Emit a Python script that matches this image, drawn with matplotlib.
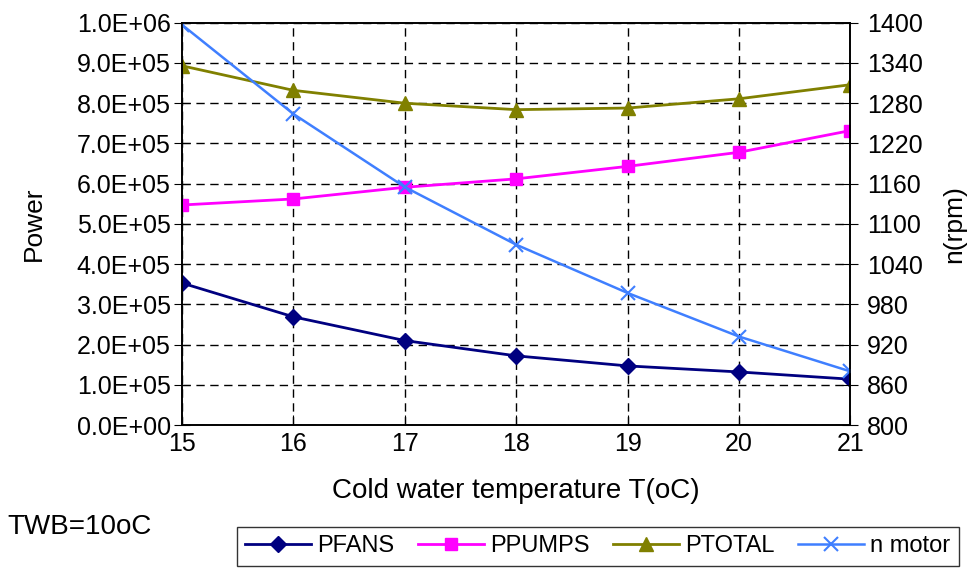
import matplotlib.pyplot as plt

plt.rcParams['font.family'] = ['Liberation Sans', 'DejaVu Sans']

temps = [15, 16, 17, 18, 19, 20, 21]
pfans = [3.53e5, 2.69e5, 2.10e5, 1.72e5, 1.47e5, 1.32e5, 1.14e5]
ppumps = [5.47e5, 5.62e5, 5.91e5, 6.12e5, 6.43e5, 6.78e5, 7.32e5]
ptotal = [8.93e5, 8.32e5, 8.00e5, 7.84e5, 7.88e5, 8.11e5, 8.46e5]
n_motor = [1397, 1264, 1155, 1069, 997, 932, 880]

power_ticks = [i * 1e5 for i in range(11)]
power_labels = ['0.0E+00'] + ['%d.0E+05' % i for i in range(1, 10)] + ['1.0E+06']
rpm_ticks = list(range(800, 1401, 60))

fig = plt.figure(figsize=(9.8, 5.69), dpi=100)
ax = fig.add_axes([0.1857, 0.253, 0.682, 0.707])
ax2 = ax.twinx()

l1, = ax.plot(temps, pfans, color='#000080', marker='D', markersize=8, linewidth=2, label='PFANS')
l2, = ax.plot(temps, ppumps, color='#FF00FF', marker='s', markersize=9, linewidth=2, label='PPUMPS')
l3, = ax.plot(temps, ptotal, color='#808000', marker='^', markersize=10, linewidth=2, label='PTOTAL')
l4, = ax2.plot(temps, n_motor, color='#3F7FFF', marker='x', markersize=10, markeredgewidth=1.5, linewidth=1.8, label='n motor')

ax.set_xlim(15, 21)
ax.set_ylim(0, 1e6)
ax.set_yticks(power_ticks)
ax.set_yticklabels(power_labels)
ax.set_xticks(temps)
ax2.set_ylim(800, 1400)
ax2.set_yticks(rpm_ticks)

ax.grid(True, linestyle=(0, (6, 4)), color='black', linewidth=1)
ax.tick_params(axis='y', labelsize=18, direction='inout', length=12, pad=2)
ax2.tick_params(axis='y', labelsize=18, direction='inout', length=12, pad=6)
ax.tick_params(axis='x', labelsize=18, direction='in', length=7, pad=5)
for a in (ax, ax2):
    for s in a.spines.values():
        s.set_linewidth(1.2)

ax.set_xlabel('Cold water temperature T(oC)', fontsize=20, labelpad=16)
ax.set_ylabel('Power', fontsize=19, labelpad=22)
ax2.set_ylabel('n(rpm)', fontsize=19, labelpad=14)

fig.text(0.008, 1 - 527 / 569, 'TWB=10oC', fontsize=20, va='center', ha='left')
fig.legend(handles=[l1, l2, l3, l4], loc='upper left', bbox_to_anchor=(237 / 980, 1 - 527 / 569),
           ncol=4, fontsize=17, frameon=True, fancybox=False, edgecolor='black',
           handlelength=2.8, columnspacing=1.0, handletextpad=0.25, borderaxespad=0, borderpad=0.35)

fig.savefig('out.png', dpi=100)
